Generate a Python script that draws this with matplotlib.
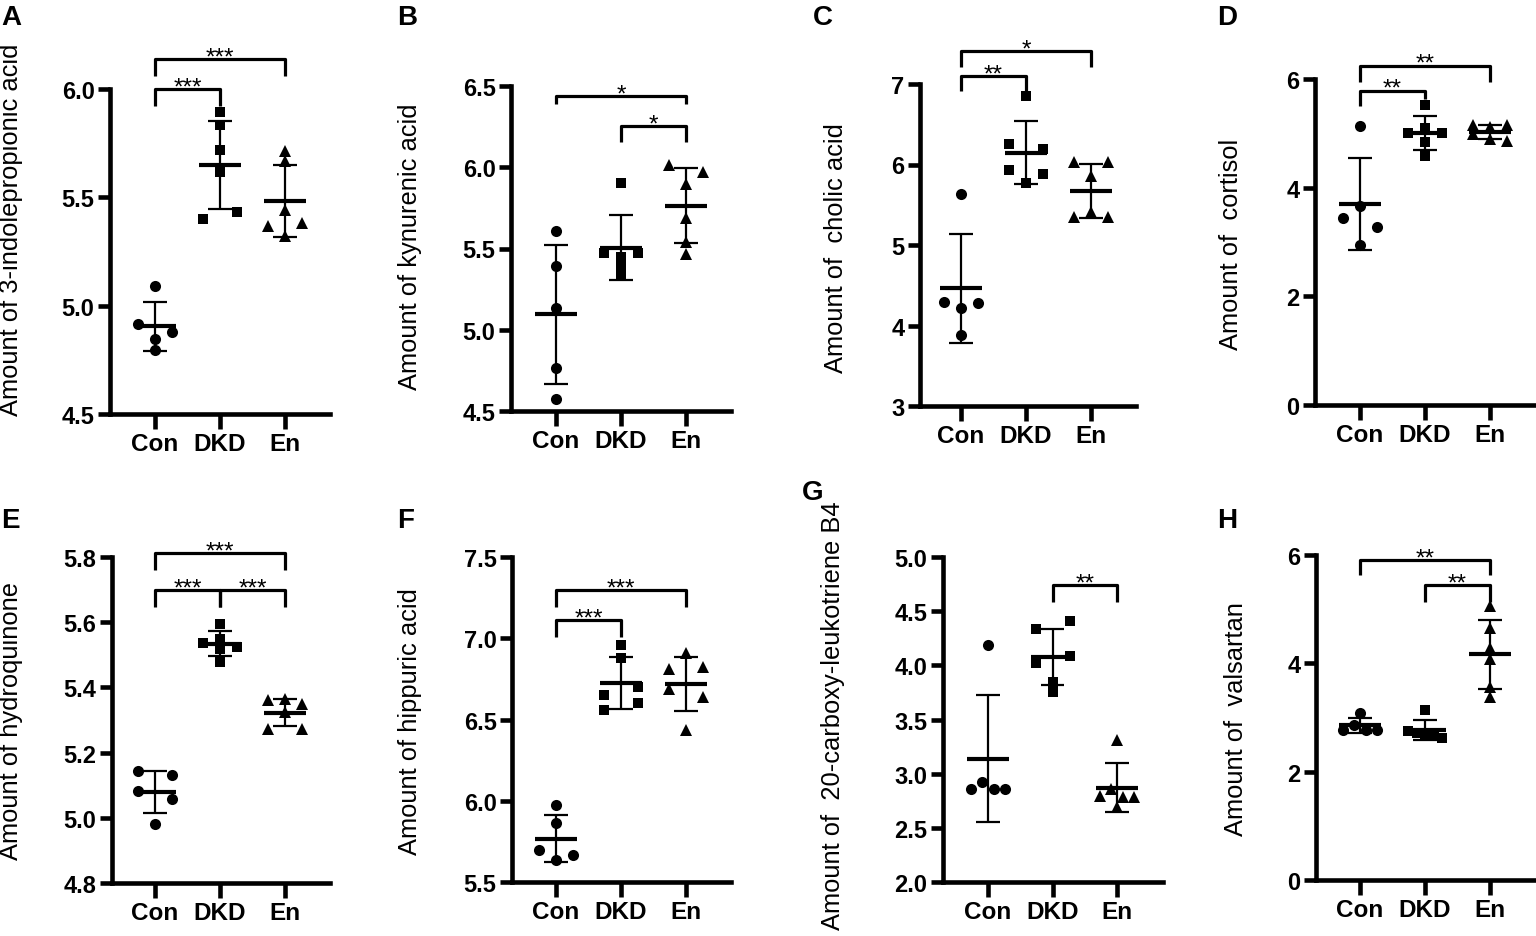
import numpy as np
import matplotlib
matplotlib.use("Agg")
import matplotlib.pyplot as plt

plt.rcParams['font.family'] = ['Liberation Sans', 'DejaVu Sans']

# ---------------- data ----------------
groups = ["Con", "DKD", "En"]

A_con = [5.092, 4.915, 4.877, 4.846, 4.797]
A_dkd = [5.895, 5.834, 5.718, 5.618, 5.400, 5.431]
A_en = [5.715, 5.669, 5.443, 5.369, 5.382, 5.320]

B_con = [5.608, 5.392, 5.136, 4.767, 4.572]
B_dkd = [5.905, 5.470, 5.450, 5.470, 5.400, 5.340]
B_en = [6.014, 5.971, 5.897, 5.688, 5.540, 5.466]

C_con = [5.635, 4.291, 4.216, 4.282, 3.877]
C_dkd = [6.855, 6.255, 6.193, 5.937, 5.883, 5.767]
C_en = [6.028, 6.028, 5.854, 5.345, 5.407, 5.345]

D_con = [5.141, 3.669, 3.436, 3.282, 2.951]
D_dkd = [5.520, 5.000, 5.090, 5.000, 4.834, 4.589]
D_en = [5.150, 5.120, 5.160, 4.980, 4.900, 4.860]

E_con = [5.144, 5.130, 5.082, 5.059, 4.980]
E_dkd = [5.596, 5.536, 5.549, 5.524, 5.519, 5.478]
E_en = [5.360, 5.363, 5.348, 5.325, 5.271, 5.271]

F_con = [5.972, 5.863, 5.695, 5.668, 5.633]
F_dkd = [6.956, 6.881, 6.649, 6.700, 6.556, 6.604]
F_en = [6.909, 6.813, 6.823, 6.690, 6.638, 6.437]

G_con = [4.185, 2.862, 2.923, 2.862, 2.862]
G_dkd = [4.338, 4.409, 4.022, 4.083, 3.846, 3.754]
G_en = [3.314, 2.791, 2.862, 2.785, 2.785, 2.692]

H_con = [3.084, 2.776, 2.856, 2.776, 2.776]
H_dkd = [3.146, 2.750, 2.720, 2.700, 2.680, 2.620]
H_en = [5.057, 4.644, 4.274, 4.089, 3.565, 3.380]

ylabels = {
    "A": "Amount of 3-indolepropionic acid",
    "B": "Amount of kynurenic acid",
    "C": "Amount of  cholic acid",
    "D": "Amount of  cortisol",
    "E": "Amount of hydroquinone",
    "F": "Amount of hippuric acid",
    "G": "Amount of  20-carboxy-leukotriene B4",
    "H": "Amount of  valsartan",
}

yticks = {
    "A": [4.5, 5.0, 5.5, 6.0],
    "B": [4.5, 5.0, 5.5, 6.0, 6.5],
    "C": [3, 4, 5, 6, 7],
    "D": [0, 2, 4, 6],
    "E": [4.8, 5.0, 5.2, 5.4, 5.6, 5.8],
    "F": [5.5, 6.0, 6.5, 7.0, 7.5],
    "G": [2.0, 2.5, 3.0, 3.5, 4.0, 4.5, 5.0],
    "H": [0, 2, 4, 6],
}
tickfmt = {"A": "{:.1f}", "B": "{:.1f}", "C": "{:.0f}", "D": "{:.0f}",
           "E": "{:.1f}", "F": "{:.1f}", "G": "{:.1f}", "H": "{:.0f}"}

# significance comparisons: (group i, group j, label)
comparisons = {
    "A": [(0, 1, "***"), (0, 2, "***")],
    "B": [(0, 2, "*"), (1, 2, "*")],
    "C": [(0, 1, "**"), (0, 2, "*")],
    "D": [(0, 1, "**"), (0, 2, "**")],
    "E": [(0, 1, "***"), (1, 2, "***"), (0, 2, "***")],
    "F": [(0, 1, "***"), (0, 2, "***")],
    "G": [(1, 2, "**")],
    "H": [(0, 2, "**"), (1, 2, "**")],
}

panel_data = {
    "A": [A_con, A_dkd, A_en], "B": [B_con, B_dkd, B_en],
    "C": [C_con, C_dkd, C_en], "D": [D_con, D_dkd, D_en],
    "E": [E_con, E_dkd, E_en], "F": [F_con, F_dkd, F_en],
    "G": [G_con, G_dkd, G_en], "H": [H_con, H_dkd, H_en],
}

# ---------------- layout (pixels) ----------------
W, H = 1536, 937
layout = {
    "A": dict(box=(110, 330, 90, 415), cats=(155, 285), let=(1, 25), ylab=(11, 230)),
    "B": dict(box=(511, 731, 87, 412), cats=(556, 686), let=(397, 25), ylab=(410, 247)),
    "C": dict(box=(920, 1136, 85, 407), cats=(961, 1091), let=(813, 25), ylab=(836, 248)),
    "D": dict(box=(1315, 1535, 80, 406), cats=(1360, 1490), let=(1217, 25), ylab=(1231, 244)),
    "E": dict(box=(112, 330, 558, 884), cats=(155, 285), let=(1, 528), ylab=(11, 721)),
    "F": dict(box=(512, 731, 558, 883), cats=(556, 686), let=(397, 528), ylab=(410, 722)),
    "G": dict(box=(943, 1163, 558, 883), cats=(988, 1117), let=(802, 500), ylab=(833, 716)),
    "H": dict(box=(1316, 1535, 556, 881), cats=(1360, 1490), let=(1217, 528), ylab=(1236, 719)),
}
# bracket heights in data units: (bar, leg_i, leg_j), in same order as comparisons
brackets = {
    "A": [(6.000, 5.920, 5.920), (6.138, 6.060, 6.060)],
    "B": [(6.438, 6.390, 6.390), (6.254, 6.155, 6.155)],
    "C": [(7.100, 6.910, 6.910), (7.410, 7.210, 7.210)],
    "D": [(5.785, 5.500, 5.630), (6.245, 5.940, 5.940)],
    "E": [(5.698, 5.647, 5.647), (5.698, 5.647, 5.647), (5.812, 5.759, 5.759)],
    "F": [(7.110, 7.008, 7.008), (7.295, 7.192, 7.192)],
    "G": [(4.738, 4.585, 4.585)],
    "H": [(5.908, 5.630, 5.630), (5.445, 5.137, 5.137)],
}

markers = ["o", "s", "^"]
msizes = [8.0, 7.2, 8.4]

fig = plt.figure(figsize=(W / 100, H / 100), dpi=100)


def swarm_offsets(ax, vals, half_width_px, dpx):
    """Group points with near-equal values into rows and spread each row."""
    vals = np.asarray(vals, float)
    ypx = ax.transData.transform(np.column_stack([np.zeros_like(vals), vals]))[:, 1]
    order = sorted(range(len(vals)), key=lambda i: (-vals[i], i))
    rows = []
    for i in order:
        if rows and abs(ypx[rows[-1][0]] - ypx[i]) < dpx:
            rows[-1].append(i)
        else:
            rows.append([i])
    offs = np.zeros(len(vals))
    for r in rows:
        r = sorted(r)
        if len(r) > 1:
            offs[r] = np.linspace(-half_width_px, half_width_px, len(r))
    return offs


for key in "ABCDEFGH":
    L = layout[key]
    left, right, top, bottom = L["box"]
    ax = fig.add_axes([left / W, 1 - bottom / H, (right - left) / W, (bottom - top) / H])
    c0, c2 = L["cats"]
    u = (c2 - c0) / 2.0
    ax.set_xlim((left - c0) / u, (right - c0) / u)
    ticks = yticks[key]
    ax.set_ylim(ticks[0], ticks[-1])
    ax.set_yticks(ticks)
    ax.set_yticklabels([tickfmt[key].format(t) for t in ticks],
                       fontsize=17, fontweight="bold")
    ax.set_xticks(range(3))
    ax.set_xticklabels(groups, fontsize=17.5, fontweight="bold")
    for s in ("top", "right"):
        ax.spines[s].set_visible(False)
    for s in ("left", "bottom"):
        ax.spines[s].set_linewidth(3.3)
    ax.tick_params(axis="y", length=8.6, width=3.3, pad=2.5)
    ax.tick_params(axis="x", length=10.8, width=3.3, pad=2.0)

    data = panel_data[key]
    for gi, vals in enumerate(data):
        offs = swarm_offsets(ax, vals, 17.0, 9.5) / u
        ax.plot(gi + offs, vals, linestyle="none", marker=markers[gi],
                markersize=msizes[gi], color="black", markeredgewidth=0,
                clip_on=False, zorder=3)
        m = np.mean(vals)
        sd = np.std(vals, ddof=1)
        ax.plot([gi - 0.33, gi + 0.33], [m, m], color="black", lw=3.0,
                solid_capstyle="butt", zorder=4, clip_on=False)
        ax.plot([gi, gi], [m - sd, m + sd], color="black", lw=1.6,
                solid_capstyle="butt", zorder=4, clip_on=False)
        for yy in (m - sd, m + sd):
            ax.plot([gi - 0.18, gi + 0.18], [yy, yy], color="black", lw=1.6,
                    solid_capstyle="butt", zorder=4, clip_on=False)

    for (i, j, lab), (bar, li, lj) in zip(comparisons[key], brackets[key]):
        ax.plot([i, i, j, j], [li, bar, bar, lj], color="black", lw=2.3,
                solid_joinstyle="round", solid_capstyle="butt",
                clip_on=False, zorder=5)
        ax.annotate(lab, xy=((i + j) / 2.0, bar), xytext=(0, -3.0),
                    textcoords="offset points", ha="center", va="baseline",
                    fontsize=17.5, annotation_clip=False)

    lx, ly = L["let"]
    fig.text(lx / W, 1 - ly / H, key, fontsize=20, fontweight="bold",
             ha="left", va="baseline")
    yx, yy = L["ylab"]
    fig.text(yx / W, 1 - yy / H, ylabels[key], fontsize=18.4, rotation=90,
             ha="center", va="center")

fig.savefig("out.png", dpi=100)
